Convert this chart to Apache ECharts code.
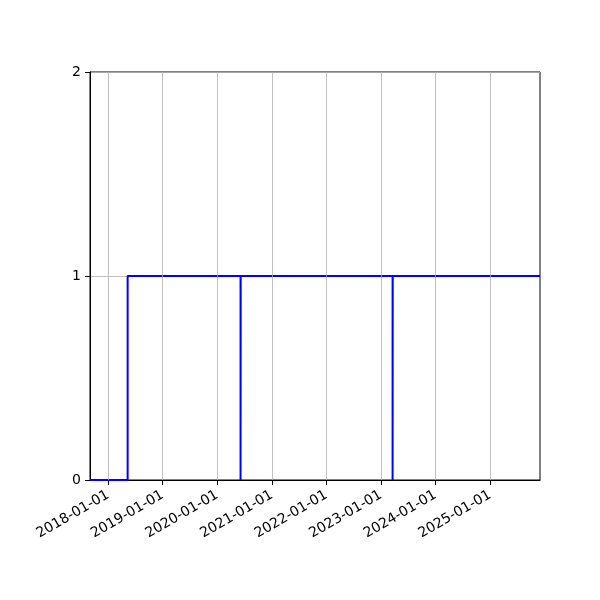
<!DOCTYPE html>
<html>
<head>
<meta charset="utf-8">
<script src="https://cdn.jsdelivr.net/npm/echarts@6/dist/echarts.min.js"></script>
<style>html,body{margin:0;padding:0;background:#fff}#c{width:600px;height:600px}</style>
</head>
<body>
<div id="c"></div>
<script>
// Step data (value holds from each date until the next)
const stepDates = ['2017-09-01','2018-05-11','2020-06-05','2020-06-06','2023-03-20','2023-03-21','2025-12-01'];
const stepValues = [0, 1, 0, 1, 0, 1, 1];
const xRange = ['2017-09-01', '2025-12-01'];
const yearTicks = ['2018-01-01','2019-01-01','2020-01-01','2021-01-01','2022-01-01','2023-01-01','2024-01-01','2025-01-01'];
const yTicks = [0, 1, 2];

const ts = s => Date.parse(s + 'T00:00:00Z');
const tickTs = yearTicks.map(ts);
const chart = echarts.init(document.getElementById('c'), null, {renderer: 'canvas'});
const font = 'DejaVu Sans';
const fmt = v => { const d = new Date(v); return d.getUTCFullYear() + '-' + String(d.getUTCMonth()+1).padStart(2,'0') + '-' + String(d.getUTCDate()).padStart(2,'0'); };
chart.setOption({
  animation: false,
  grid: {left: 90, right: 60, top: 72, bottom: 120, show: true, borderColor: '#000', borderWidth: 1, backgroundColor: 'transparent'},
  xAxis: {
    type: 'value',
    min: ts(xRange[0]), max: ts(xRange[1]),
    axisLine: {show: true, lineStyle: {color: '#000', width: 1}},
    axisTick: {show: true, inside: false, length: 5, lineStyle: {color: '#000'}, customValues: tickTs},
    axisLabel: {
      customValues: tickTs, showMinLabel: true, showMaxLabel: true,
      rotate: 30, color: '#000', fontFamily: font, fontSize: 14, margin: 14,
      formatter: fmt
    },
    splitLine: {show: false}
  },
  yAxis: {
    type: 'value', min: yTicks[0], max: yTicks[yTicks.length-1], interval: 1,
    axisLine: {show: true, lineStyle: {color: '#000', width: 1}},
    axisTick: {show: true, length: 5, lineStyle: {color: '#000'}},
    axisLabel: {color: '#000', fontFamily: font, fontSize: 14, margin: 9},
    splitLine: {show: true, lineStyle: {color: '#b0b0b0', width: 0.8}}
  },
  series: [{
    type: 'line', showSymbol: false, data: [],
    silent: true,
    markLine: {
      symbol: 'none', silent: true, label: {show: false},
      lineStyle: {color: '#b0b0b0', width: 0.8, type: 'solid'},
      data: tickTs.map(t => ({xAxis: t}))
    }
  }, {
    type: 'line', step: 'end', showSymbol: false,
    data: stepDates.map((d, i) => [ts(d), stepValues[i]]),
    lineStyle: {color: '#0000ff', width: 2},
    itemStyle: {color: '#0000ff'}
  }]
});
</script>
</body>
</html>
